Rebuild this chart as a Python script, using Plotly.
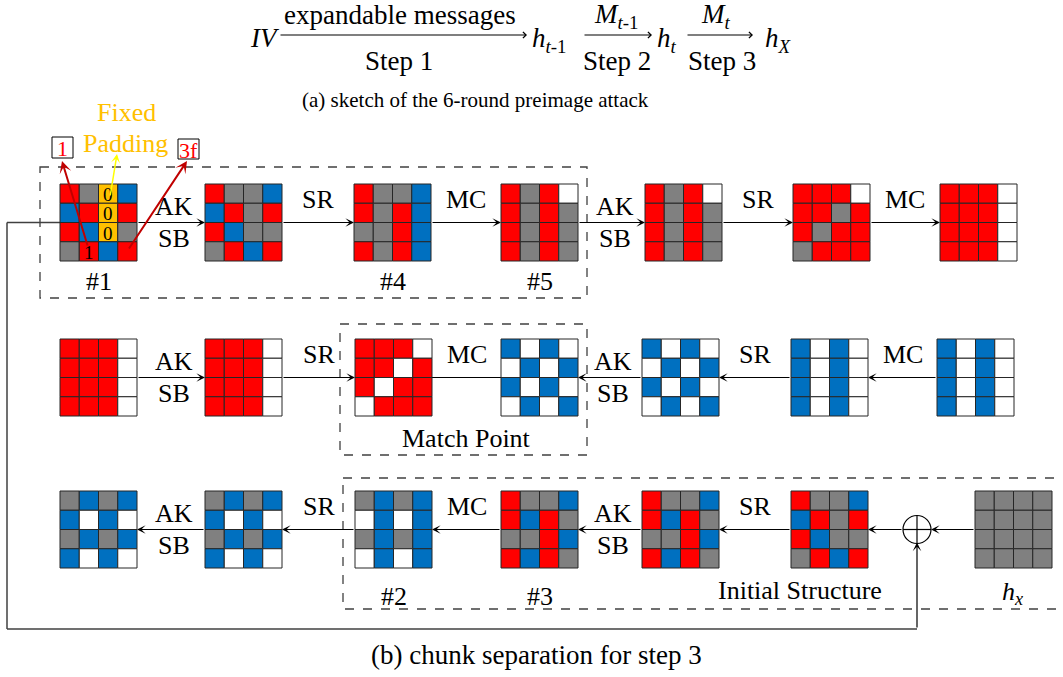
import plotly.graph_objects as go

# ---------------------------------------------------------------------------
# State data: each AES state is 4 rows of 4 cells.
# R = red (forward), B = blue (backward), G = gray (both), W = white (free),
# Y = fixed padding byte
# ---------------------------------------------------------------------------
row1_states = [
    ["RGYB", "BRYR", "RBYG", "GRBR"],
    ["RGGB", "BRGR", "RBGG", "GRBR"],
    ["RGGB", "RGRB", "GGRB", "RGRB"],
    ["RGRW", "RGRG", "RGRG", "RGRG"],
    ["RGRW", "RGRG", "RGRG", "RGRG"],
    ["RRRW", "RRGR", "RGRR", "GRRR"],
    ["RRRW", "RRRW", "RRRW", "RRRW"],
]
row2_states = [
    ["RRRW", "RRRW", "RRRW", "RRRW"],
    ["RRRW", "RRRW", "RRRW", "RRRW"],
    ["RRRW", "RRWR", "RWRR", "WRRR"],
    ["BWBW", "WBWB", "BWBW", "WBWB"],
    ["BWBW", "WBWB", "BWBW", "WBWB"],
    ["BWBW", "BWBW", "BWBW", "BWBW"],
    ["BWBW", "BWBW", "BWBW", "BWBW"],
]
row3_states = [
    ["GBGB", "BWBW", "GBGB", "BWBW"],
    ["GBGB", "BWBW", "GBGB", "BWBW"],
    ["GBGB", "WBWB", "GBGB", "WBWB"],
    ["RGGB", "RBRG", "GGRB", "RBRG"],
    ["RGGB", "RBRG", "GGRB", "RBRG"],
    ["RGGB", "BRGR", "RBGG", "GRBR"],
    ["GGGG", "GGGG", "GGGG", "GGGG"],
]

# byte values written into the first state: (row, col, text)
first_state_bytes = [(0, 2, "0"), (1, 2, "0"), (2, 2, "0"), (3, 1, "1")]

# state numbering below selected grids: (row index, grid index, label)
state_tags = [(0, 0, "#1"), (0, 2, "#4"), (0, 3, "#5"), (2, 2, "#2"), (2, 3, "#3")]

# operations between neighbouring states: (row, gap index, labels)
row_ops = [
    (0, 0, "AK/SB"), (0, 1, "SR"), (0, 2, "MC"), (0, 3, "AK/SB"), (0, 4, "SR"), (0, 5, "MC"),
    (1, 0, "AK/SB"), (1, 1, "SR"), (1, 2, "MC"), (1, 3, "AK/SB"), (1, 4, "SR"), (1, 5, "MC"),
    (2, 0, "AK/SB"), (2, 1, "SR"), (2, 2, "MC"), (2, 3, "AK/SB"), (2, 4, "SR"),
]

PALETTE = {"R": "#FF0000", "G": "#808080", "B": "#0070C0", "W": "#FFFFFF", "Y": "#FFC000"}

# ---------------------------------------------------------------------------
# Layout geometry (pixels, origin top-left)
# ---------------------------------------------------------------------------
W, H = 1063, 677
CELL = 19.25
SIZE = 4 * CELL
ROW_TOP = [184, 339, 491]
ROW_X = [
    [60, 205, 354, 501, 645, 793, 940],
    [60, 205, 355, 501, 642, 791, 937],
    [60, 205, 355, 501, 642, 791, 975],
]
FONT = "Liberation Serif"
INK = "#000000"
EDGE = "#404040"

fig = go.Figure()
shapes = []
annotations = []


def text(x, y, s, size=26, color=INK, **kw):
    annotations.append(dict(x=x, y=y, xref="x", yref="y", text=s, showarrow=False,
                            font=dict(family=FONT, size=size, color=color), **kw))


def arrow(x0, y0, x1, y1, color=INK, width=1.2, size=1.2, head=3):
    annotations.append(dict(x=x1, y=y1, ax=x0, ay=y0, xref="x", yref="y",
                            axref="x", ayref="y", text="", showarrow=True,
                            arrowhead=head, arrowsize=size, arrowwidth=width,
                            arrowcolor=color, standoff=0, startstandoff=0,
                            font=dict(family=FONT, size=10)))


def line(x0, y0, x1, y1, color=INK, width=1.2, dash="solid"):
    shapes.append(dict(type="line", xref="x", yref="y", x0=x0, y0=y0, x1=x1, y1=y1,
                       line=dict(color=color, width=width, dash=dash)))


def dashed_box(x0, y0, x1, y1):
    shapes.append(dict(type="rect", xref="x", yref="y", x0=x0, y0=y0, x1=x1, y1=y1,
                       line=dict(color=EDGE, width=1.3, dash="dash"),
                       fillcolor="rgba(0,0,0,0)", layer="below"))


# dashed frames around the chunks
dashed_box(40, 167, 587, 298)
dashed_box(340, 324, 587, 455)
dashed_box(343, 478, 1075, 609)

# feedback line from the input state to the final XOR
line(7, 222.5, 60, 222.5, color=EDGE, width=1.5)
line(7, 222.5, 7, 629, color=EDGE, width=1.5)
line(7, 629, 917, 629, color=EDGE, width=1.5)
arrow(917, 629, 917, 542.5, color=INK, width=1.2)

# arrows between states
for r, gi, _ in row_ops:
    xs = ROW_X[r]
    ymid = ROW_TOP[r] + SIZE / 2
    left_end, right_start = xs[gi] + SIZE, xs[gi + 1]
    if r == 0 or (r == 1 and gi < 2):
        arrow(left_end, ymid, right_start, ymid)
    elif r == 1 and gi == 2:
        line(left_end, ymid, right_start, ymid)
    else:
        arrow(right_start, ymid, left_end, ymid)

# XOR with h_x at the end of the backward chunk
CX, CY, CR = 917, ROW_TOP[2] + SIZE / 2, 14
shapes.append(dict(type="circle", xref="x", yref="y", x0=CX - CR, y0=CY - CR,
                   x1=CX + CR, y1=CY + CR, line=dict(color=INK, width=1.2)))
line(CX - CR, CY, CX + CR, CY)
line(CX, CY - CR, CX, CY + CR)
arrow(ROW_X[2][6], CY, CX + CR, CY)
arrow(CX - CR, CY, ROW_X[2][5] + SIZE, CY)

# state grids
for r, states in enumerate([row1_states, row2_states, row3_states]):
    for g, state in enumerate(states):
        x0, y0 = ROW_X[r][g], ROW_TOP[r]
        for i, row_cells in enumerate(state):
            for j, c in enumerate(row_cells):
                shapes.append(dict(type="rect", xref="x", yref="y",
                                   x0=x0 + j * CELL, y0=y0 + i * CELL,
                                   x1=x0 + (j + 1) * CELL, y1=y0 + (i + 1) * CELL,
                                   fillcolor=PALETTE[c], line=dict(color="#262626", width=1),
                                   layer="above"))

# bytes written in state #1
for i, j, s in first_state_bytes:
    text(ROW_X[0][0] + (j + 0.5) * CELL, ROW_TOP[0] + (i + 0.5) * CELL + 1, s, size=19)

# operation labels
for r, gi, op in row_ops:
    xs = ROW_X[r]
    xc = (xs[gi] + SIZE + xs[gi + 1]) / 2 + 3
    ymid = ROW_TOP[r] + SIZE / 2
    if op == "AK/SB":
        text(xc, ymid - 16, "AK")
        text(xc, ymid + 16, "SB")
    else:
        text(xc - 3, ymid - 23, op)

# state numbering
for r, g, s in state_tags:
    text(ROW_X[r][g] + SIZE / 2, ROW_TOP[r] + SIZE + 20 if r == 0 else ROW_TOP[r] + SIZE + 28, s)

text(466, 438, "Match Point")
text(800, 590, "Initial Structure")
text(1012, 593, "<i>h<sub>x</sub></i>")

# fixed padding annotation
text(126, 112, "Fixed", color="#FFC000")
text(125, 143, "Padding", color="#FFC000")
arrow(110, 197, 117, 154, color="#FFFF00", width=1.5, size=1.0)
for (bx0, by0, bx1, by1, s) in [(52, 137, 73, 158, "1"), (178, 139, 199, 159, "3f")]:
    shapes.append(dict(type="rect", xref="x", yref="y", x0=bx0, y0=by0, x1=bx1, y1=by1,
                       line=dict(color=INK, width=1), fillcolor="white"))
    text((bx0 + bx1) / 2, (by0 + by1) / 2 + 1, s, size=22, color="#FF0000")
arrow(88, 247, 62, 161, color="#C00000", width=2, size=1.0)
arrow(128, 250, 187, 161, color="#C00000", width=2, size=1.0)

# (a) sketch of the attack
text(265, 38, "<i>IV</i>", size=27)
arrow(279, 35, 527, 35, width=1.2, size=1.0, head=4)
text(400, 15, "expandable messages", size=27)
text(399, 61, "Step 1", size=27)
text(549, 40, "<i>h<sub>t</sub></i><sub>-1</sub>", size=27)
arrow(583, 35, 652, 35, width=1.2, size=1.0, head=4)
text(616, 16, "<i>M<sub>t</sub></i><sub>-1</sub>", size=27)
text(617, 61, "Step 2", size=27)
text(667, 40, "<i>h<sub>t</sub></i>", size=27)
arrow(686, 35, 753, 35, width=1.2, size=1.0, head=4)
text(716, 16, "<i>M<sub>t</sub></i>", size=27)
text(722, 61, "Step 3", size=27)
text(778, 40, "<i>h<sub>X</sub></i>", size=27)
text(475, 100, "(a) sketch of the 6-round preimage attack", size=21)

# (b) caption
text(536, 655, "(b) chunk separation for step 3", size=27)

fig.update_layout(
    width=W, height=H,
    margin=dict(l=0, r=0, t=0, b=0),
    font=dict(family=FONT, size=26, color=INK),
    paper_bgcolor="white", plot_bgcolor="white",
    xaxis=dict(range=[0, W], visible=False, fixedrange=True),
    yaxis=dict(range=[H, 0], visible=False, fixedrange=True),
    shapes=shapes, annotations=annotations, showlegend=False,
)
fig.write_html("out.html")
